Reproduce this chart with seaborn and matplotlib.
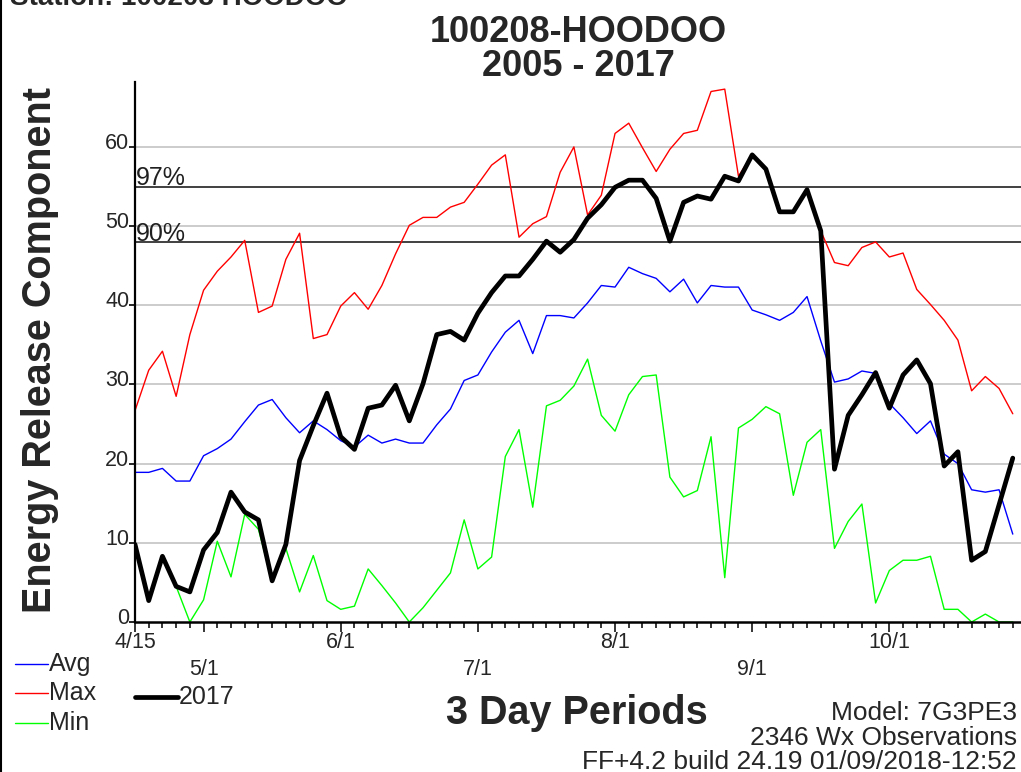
import numpy as np
import pandas as pd
import matplotlib
matplotlib.use("Agg")
import matplotlib.pyplot as plt
from matplotlib.lines import Line2D
from matplotlib.transforms import ScaledTranslation
import seaborn as sns

# ===============================
# DATA (3 day periods from 4/15)
# ===============================
avg = [18.9, 18.9, 19.4, 17.8, 17.8, 21.0, 21.9, 23.1, 25.3, 27.4,
       28.1, 25.8, 23.9, 25.4, 24.3, 22.9, 22.1, 23.6, 22.6, 23.1,
       22.6, 22.6, 24.9, 26.9, 30.5, 31.2, 34.1, 36.6, 38.1, 33.9,
       38.7, 38.7, 38.4, 40.3, 42.5, 42.3, 44.8, 44.0, 43.4, 41.7,
       43.3, 40.3, 42.5, 42.3, 42.3, 39.4, 38.8, 38.1, 39.1, 41.1,
       35.5, 30.3, 30.7, 31.7, 31.4, 27.6, 25.8, 23.8, 25.4, 21.2,
       20.0, 16.7, 16.4, 16.7, 11.1]

maxv = [26.7, 31.8, 34.2, 28.5, 36.3, 41.9, 44.3, 46.1, 48.2, 39.1,
        39.9, 45.8, 49.1, 35.8, 36.3, 39.9, 41.6, 39.5, 42.5, 46.5,
        50.1, 51.1, 51.1, 52.4, 53.0, 55.3, 57.7, 59.0, 48.6, 50.3,
        51.2, 56.8, 60.0, 51.4, 53.9, 61.7, 63.0, 59.9, 56.9, 59.7,
        61.7, 62.1, 67.0, 67.3, 56.3, 59.0, 57.2, 51.8, 51.8, 54.6,
        49.4, 45.4, 45.0, 47.3, 48.0, 46.1, 46.6, 42.0, 40.1, 38.1,
        35.6, 29.2, 31.0, 29.5, 26.3]

minv = [9.8, 2.7, 8.3, 4.5, 0.0, 2.8, 10.2, 5.7, 13.6, 11.7,
        5.2, 9.3, 3.8, 8.4, 2.7, 1.6, 2.0, 6.7, 4.6, 2.4,
        0.0, 1.8, 4.0, 6.2, 12.9, 6.7, 8.2, 20.9, 24.3, 14.5,
        27.3, 28.0, 29.8, 33.2, 26.1, 24.1, 28.7, 31.0, 31.2, 18.3,
        15.8, 16.6, 23.4, 5.6, 24.5, 25.6, 27.2, 26.3, 16.0, 22.7,
        24.3, 9.3, 12.7, 14.9, 2.4, 6.5, 7.8, 7.8, 8.3, 1.6,
        1.6, 0.0, 1.0, 0.0, 0.0]

yr2017 = [9.8, 2.7, 8.3, 4.5, 3.8, 9.1, 11.3, 16.4, 13.9, 12.9,
          5.2, 9.8, 20.4, 24.8, 28.9, 23.4, 21.8, 27.0, 27.4, 29.9,
          25.4, 30.1, 36.3, 36.7, 35.6, 39.0, 41.6, 43.7, 43.7, 45.8,
          48.1, 46.7, 48.3, 51.0, 52.7, 54.9, 55.8, 55.8, 53.5, 48.1,
          53.0, 53.8, 53.4, 56.3, 55.7, 59.0, 57.2, 51.8, 51.8, 54.6,
          49.4, 19.3, 26.1, 28.7, 31.5, 27.0, 31.2, 33.1, 30.1, 19.7,
          21.5, 7.8, 8.9, 14.8, 20.7]

periods = list(range(len(avg)))

tick_pos = [0, 5, 15, 25, 35, 45, 55]
tick_labels = ["4/15", "5/1", "6/1", "7/1", "8/1", "9/1", "10/1"]

pct_values = [55, 48]
pct_labels = ["97%", "90%"]

df = pd.DataFrame({"period": periods, "Avg": avg, "Max": maxv,
                   "Min": minv, "2017": yr2017})

# ===============================
# PLOT
# ===============================
sns.set_style("white")
plt.rcParams["font.family"] = ["Liberation Sans", "DejaVu Sans"]

W, H = 1021, 772
fig = plt.figure(figsize=(W / 100, H / 100), dpi=100)
ax = fig.add_axes([135 / W, 150 / H, 886 / W, 540 / H])

for g in range(10, 70, 10):
    ax.axhline(g, color="#cccccc", lw=1.4, zorder=0)

for v, lab in zip(pct_values, pct_labels):
    ax.axhline(v, color="#202020", lw=1.2, zorder=1)
    ax.text(0.1, v + 0.15, lab, fontsize=18, ha="left", va="baseline", color="#202020")

sns.lineplot(data=df, x="period", y="Avg", color="#0000ff", lw=1.0, ax=ax, zorder=2)
sns.lineplot(data=df, x="period", y="Max", color="#ff0000", lw=1.0, ax=ax, zorder=2)
sns.lineplot(data=df, x="period", y="Min", color="#00ff00", lw=1.0, ax=ax, zorder=2)
sns.lineplot(data=df, x="period", y="2017", color="black", lw=3.4, ax=ax, zorder=3)

ax.set_xlim(0, 64.6)
ax.set_ylim(0, 68.2)
ax.set_xlabel("")
ax.set_ylabel("")

for side in ["top", "right"]:
    ax.spines[side].set_visible(False)
ax.spines["left"].set_linewidth(1.6)
ax.spines["bottom"].set_linewidth(1.8)
ax.spines["left"].set_color("black")
ax.spines["bottom"].set_color("black")

ax.set_yticks(range(0, 70, 10))
ax.tick_params(axis="y", direction="out", length=4, width=1.2, labelsize=15.5,
               pad=0, left=True, color="black")
shift = ScaledTranslation(0, 0.06, fig.dpi_scale_trans)
for t in ax.get_yticklabels():
    t.set_transform(t.get_transform() + shift)

ax.set_xticks(periods, minor=True)
ax.set_xticks(tick_pos, [lab if i % 2 == 0 else "\n" + lab for i, lab in enumerate(tick_labels)])
ax.tick_params(axis="x", which="minor", direction="out", length=4.5, width=1.1, bottom=True, color="black")
ax.tick_params(axis="x", which="major", direction="out", length=7, width=1.1, bottom=True,
               labelsize=15.5, pad=0, color="black")
for t in ax.get_xticklabels():
    t.set_linespacing(1.4)

# titles and labels
fig.text(578 / W, 1 - 33 / H, "100208-HOODOO", fontsize=26, fontweight="bold", ha="center", va="center")
fig.text(578 / W, 1 - 67 / H, "2005 - 2017", fontsize=26, fontweight="bold", ha="center", va="center")
fig.text(10 / W, 1 - 5 / H, "Station: 100208 HOODOO", fontsize=20, fontweight="bold", ha="left", va="baseline")
fig.text(40 / W, 1 - 350 / H, "Energy Release Component", fontsize=28.5, fontweight="bold",
         rotation=90, ha="center", va="center")
fig.text(577 / W, 1 - 713 / H, "3 Day Periods", fontsize=28.5, fontweight="bold", ha="center", va="center")

fig.text(1017 / W, 1 - 713 / H, "Model: 7G3PE3", fontsize=19, ha="right", va="center")
fig.text(1017 / W, 1 - 738 / H, "2346 Wx Observations", fontsize=19, ha="right", va="center")
fig.text(1017 / W, 1 - 762 / H, "FF+4.2 build 24.19 01/09/2018-12:52", fontsize=19, ha="right", va="center")

# legend
legend_items = [("Avg", "#0000ff", 1.0, 15, 664), ("Max", "#ff0000", 1.0, 15, 693),
                ("Min", "#00ff00", 1.0, 15, 723), ("2017", "black", 3.4, 135, 697)]
for name, col, lw, x0, y0 in legend_items:
    seg = 33 if lw < 2 else 43
    fig.add_artist(Line2D([x0 / W, (x0 + seg) / W], [1 - y0 / H, 1 - y0 / H], color=col, lw=lw))
    fig.text((x0 + seg + 1) / W, 1 - y0 / H, name, fontsize=18, ha="left", va="center")

# left border
fig.add_artist(Line2D([1 / W, 1 / W], [0, 1], color="black", lw=1.5))

fig.savefig("out.png", dpi=100)
